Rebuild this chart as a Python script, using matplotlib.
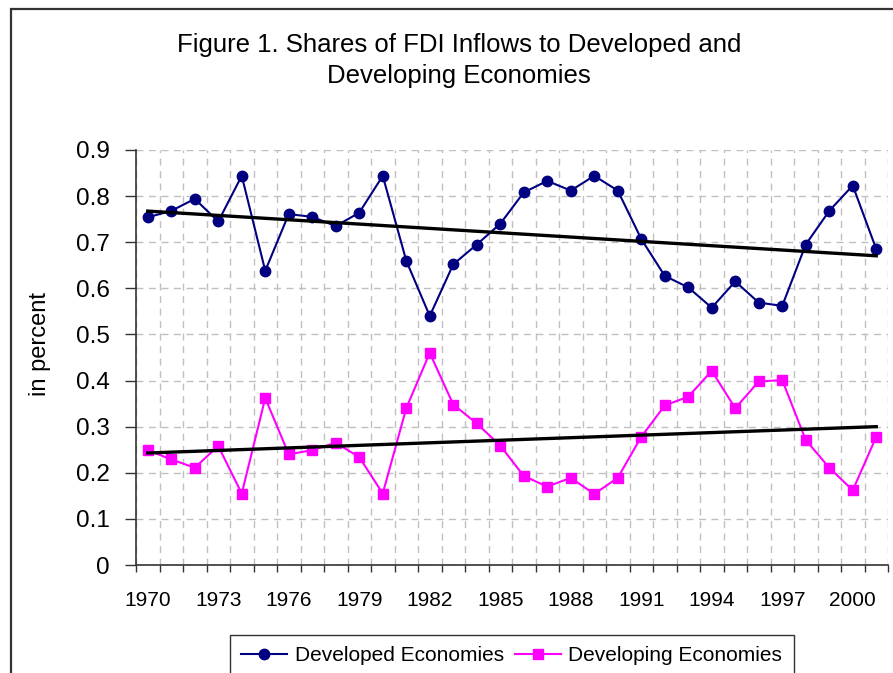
import numpy as np
import matplotlib
matplotlib.use("Agg")
import matplotlib.pyplot as plt
from matplotlib.patches import Rectangle

plt.rcParams['font.family'] = ['Liberation Sans', 'DejaVu Sans']

# data
years = list(range(1970, 2002))
developed = [0.754, 0.768, 0.794, 0.745, 0.844, 0.638, 0.761, 0.755, 0.735, 0.764,
             0.844, 0.660, 0.540, 0.652, 0.695, 0.740, 0.808, 0.833, 0.812, 0.844,
             0.812, 0.707, 0.627, 0.602, 0.558, 0.615, 0.569, 0.562, 0.695, 0.768,
             0.823, 0.685]
developing = [0.249, 0.229, 0.211, 0.258, 0.155, 0.362, 0.240, 0.249, 0.265, 0.234,
              0.155, 0.340, 0.460, 0.348, 0.307, 0.259, 0.193, 0.170, 0.189, 0.154,
              0.189, 0.278, 0.346, 0.365, 0.421, 0.340, 0.398, 0.401, 0.271, 0.211,
              0.162, 0.278]
yticks = [0, 0.1, 0.2, 0.3, 0.4, 0.5, 0.6, 0.7, 0.8, 0.9]
label_years = years[::3]

W, H = 893, 673
fig = plt.figure(figsize=(W / 100, H / 100), dpi=100)

# outer chart border (cropped on right and bottom like the original)
fig.patches.append(Rectangle((11 / W, -0.1), 1.2, 1.1 - 9 / H, transform=fig.transFigure,
                             fill=False, edgecolor='#333333', linewidth=1.6))

ax = fig.add_axes([136 / W, (H - 565) / H, (888 - 136) / W, (565 - 150) / H])

x = np.arange(len(years))

# linear trend lines (as Excel trendline)
t_dev = np.poly1d(np.polyfit(x, developed, 1))(x)
t_dvg = np.poly1d(np.polyfit(x, developing, 1))(x)

ax.plot(x, developed, color='#000080', lw=1.5, marker='o', ms=7.5,
        label='Developed Economies', zorder=3)
ax.plot(x, developing, color='#ff00ff', lw=1.5, marker='s', ms=6.5,
        label='Developing Economies', zorder=3)
ax.plot(x, t_dev, color='black', lw=2.4, zorder=4)
ax.plot(x, t_dvg, color='black', lw=2.4, zorder=4)

ax.set_xlim(-0.5, len(years) - 0.5)
ax.set_ylim(0, 0.9)

ax.set_yticks(yticks)
ax.set_yticklabels([('%g' % v) for v in yticks], fontsize=17.5)
ax.tick_params(axis='y', length=8, width=1, pad=11, color='#333333')

ax.set_xticks([years.index(yy) for yy in label_years])
ax.set_xticklabels([str(yy) for yy in label_years], fontsize=15)
ax.set_xticks(np.arange(-0.5, len(years)), minor=True)
ax.tick_params(axis='x', which='major', length=0, pad=19)
ax.tick_params(axis='x', which='minor', length=5, width=1, color='#333333')

ax.grid(True, axis='y', which='major', color='#c0c0c0', ls=(0, (5, 4)), lw=1)
ax.grid(True, axis='x', which='minor', color='#c0c0c0', ls=(0, (5, 4)), lw=1)
ax.set_axisbelow(True)

for s in ['top', 'right']:
    ax.spines[s].set_visible(False)
for s in ['left', 'bottom']:
    ax.spines[s].set_color('#333333')
    ax.spines[s].set_linewidth(1.2)

ax.set_ylabel('in percent', fontsize=17)
ax.yaxis.set_label_coords((51 - 136) / (888 - 136), (565 - 344) / (565 - 150))

fig.text(459 / W, 1 - 45 / H, 'Figure 1. Shares of FDI Inflows to Developed and',
         ha='center', va='center', fontsize=18.5)
fig.text(459 / W, 1 - 76 / H, 'Developing Economies',
         ha='center', va='center', fontsize=18.5)

leg = fig.legend(loc='upper left', bbox_to_anchor=(230 / W, 1 - 635 / H), ncol=2,
                 fontsize=15, frameon=True, fancybox=False, edgecolor='black',
                 handlelength=2.2, handletextpad=0.35, columnspacing=0.55,
                 borderpad=0.55, borderaxespad=0)
leg.get_frame().set_linewidth(1)

fig.savefig('out.png', dpi=100)
